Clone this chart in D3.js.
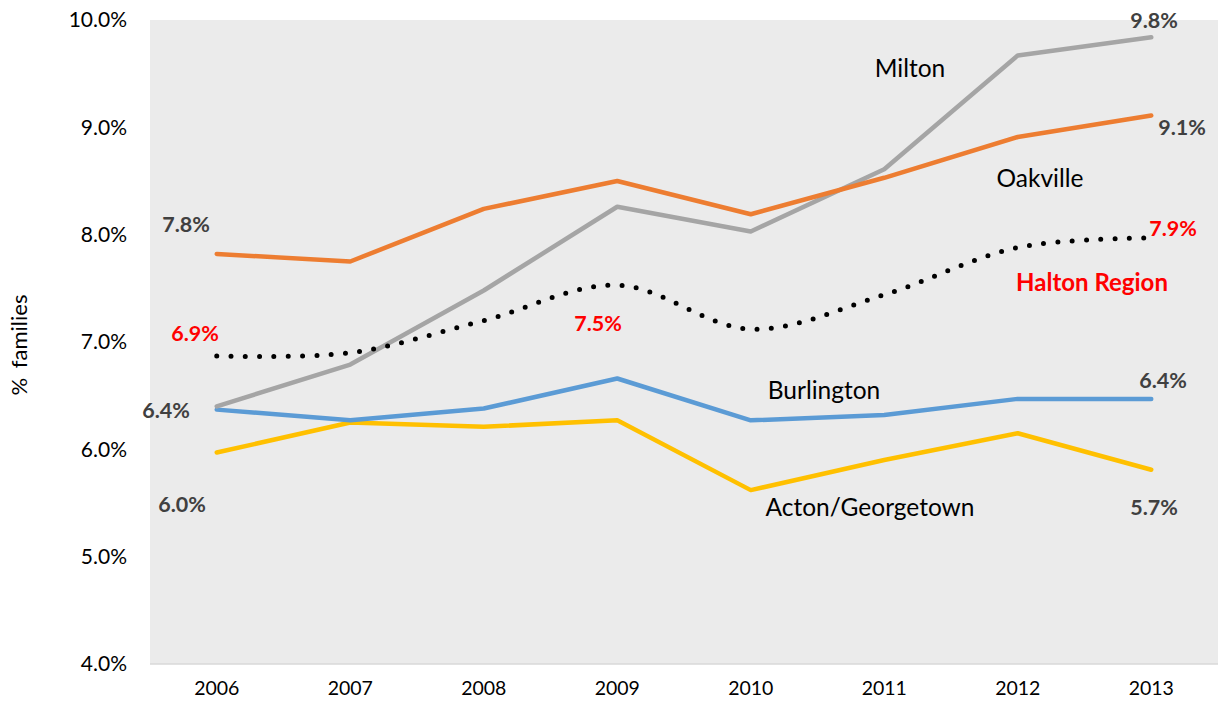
<!DOCTYPE html>
<html><head><meta charset="utf-8">
<script src="https://cdn.jsdelivr.net/npm/d3@7"></script>
<style>body{margin:0;background:#fff}svg{display:block}text{font-family:Lato,"Liberation Sans",sans-serif}</style>
</head><body><svg id="c" width="1220" height="702"></svg>
<script>
const years = ["2006","2007","2008","2009","2010","2011","2012","2013"];
const oakville = [7.82,7.75,8.24,8.50,8.19,8.53,8.91,9.11];
const milton = [6.40,6.79,7.48,8.26,8.03,8.61,9.67,9.84];
const halton = [6.87,6.90,7.20,7.53,7.12,7.44,7.88,7.97];
const burlington = [6.37,6.27,6.38,6.66,6.27,6.32,6.47,6.47];
const acton = [5.97,6.25,6.21,6.27,5.62,5.90,6.15,5.81];
const yTicks = [4,5,6,7,8,9,10];

const svg = d3.select("#c");
const L=150,R=1218,T=20,B=664;
const x = d3.scaleBand().domain(years).range([L,R]);
const y = d3.scaleLinear().domain([4,10]).range([B,T]);
const cx = d => x(d)+x.bandwidth()/2;

svg.append("rect").attr("x",L).attr("y",T).attr("width",R-L).attr("height",B-T).attr("fill","#ebebeb");
svg.append("line").attr("x1",L).attr("x2",R).attr("y1",B).attr("y2",B).attr("stroke","#d9d9d9").attr("stroke-width",1.5);

const yAxis = svg.append("g").attr("transform",`translate(${L},0)`)
  .call(d3.axisLeft(y).tickValues(yTicks).tickFormat(d=>d.toFixed(1)+"%").tickSize(0).tickPadding(23));
yAxis.select(".domain").remove();
yAxis.selectAll("text").attr("font-size",21).attr("fill","#000").attr("font-family","Lato");

const xAxis = svg.append("g").attr("transform",`translate(0,${B})`)
  .call(d3.axisBottom(x).tickSize(0).tickPadding(17));
xAxis.select(".domain").remove();
xAxis.selectAll("text").attr("font-size",19.5).attr("fill","#000").attr("font-family","Lato");

svg.append("text").attr("transform","translate(27,345) rotate(-90)").attr("text-anchor","middle")
  .attr("font-size",22).attr("fill","#000").attr("xml:space","preserve").attr("word-spacing","4").text("% families");

const line = d3.line().x((d,i)=>cx(years[i])).y(d=>y(d));
const smooth = d3.line().x((d,i)=>cx(years[i])).y(d=>y(d)).curve(d3.curveCatmullRom.alpha(0.5));

const series = [
  {v:acton,c:"#ffc000"},
  {v:burlington,c:"#5b9bd5"},
  {v:milton,c:"#a5a5a5"},
  {v:oakville,c:"#ed7d31"}
];
series.forEach(s=>{
  svg.append("path").attr("d",line(s.v)).attr("fill","none").attr("stroke",s.c)
    .attr("stroke-width",4.5).attr("stroke-linejoin","round").attr("stroke-linecap","round");
});
svg.append("path").attr("d",smooth(halton)).attr("fill","none").attr("stroke","#000")
  .attr("stroke-width",5).attr("stroke-dasharray","0 14.3").attr("stroke-linecap","round");

const labels = [
  {t:"7.8%",x:186,y:224,c:"#404040",b:1,s:21.5},
  {t:"6.9%",x:195,y:333,c:"#ff0000",b:1,s:21.5},
  {t:"6.4%",x:166,y:410,c:"#404040",b:1,s:21.5},
  {t:"6.0%",x:182,y:504,c:"#404040",b:1,s:21.5},
  {t:"7.5%",x:598,y:323,c:"#ff0000",b:1,s:21.5},
  {t:"9.8%",x:1154,y:20,c:"#404040",b:1,s:21.5},
  {t:"9.1%",x:1182,y:127,c:"#404040",b:1,s:21.5},
  {t:"7.9%",x:1173,y:228,c:"#ff0000",b:1,s:21.5},
  {t:"6.4%",x:1163,y:380,c:"#404040",b:1,s:21.5},
  {t:"5.7%",x:1154,y:507,c:"#404040",b:1,s:21.5},
  {t:"Milton",x:910,y:68,c:"#000",b:0,s:24.5},
  {t:"Oakville",x:1040,y:178,c:"#000",b:0,s:24.5},
  {t:"Halton Region",x:1092,y:283,c:"#ff0000",b:1,s:24},
  {t:"Burlington",x:824,y:390,c:"#000",b:0,s:24.5},
  {t:"Acton/Georgetown",x:870,y:507,c:"#000",b:0,s:24.5}
];
svg.selectAll("text.lab").data(labels).join("text").attr("class","lab")
  .attr("x",d=>d.x).attr("y",d=>d.y).attr("dy","0.35em").attr("text-anchor","middle")
  .attr("font-size",d=>d.s).attr("font-weight",d=>d.b?"bold":"normal").attr("fill",d=>d.c).text(d=>d.t);
</script></body></html>
